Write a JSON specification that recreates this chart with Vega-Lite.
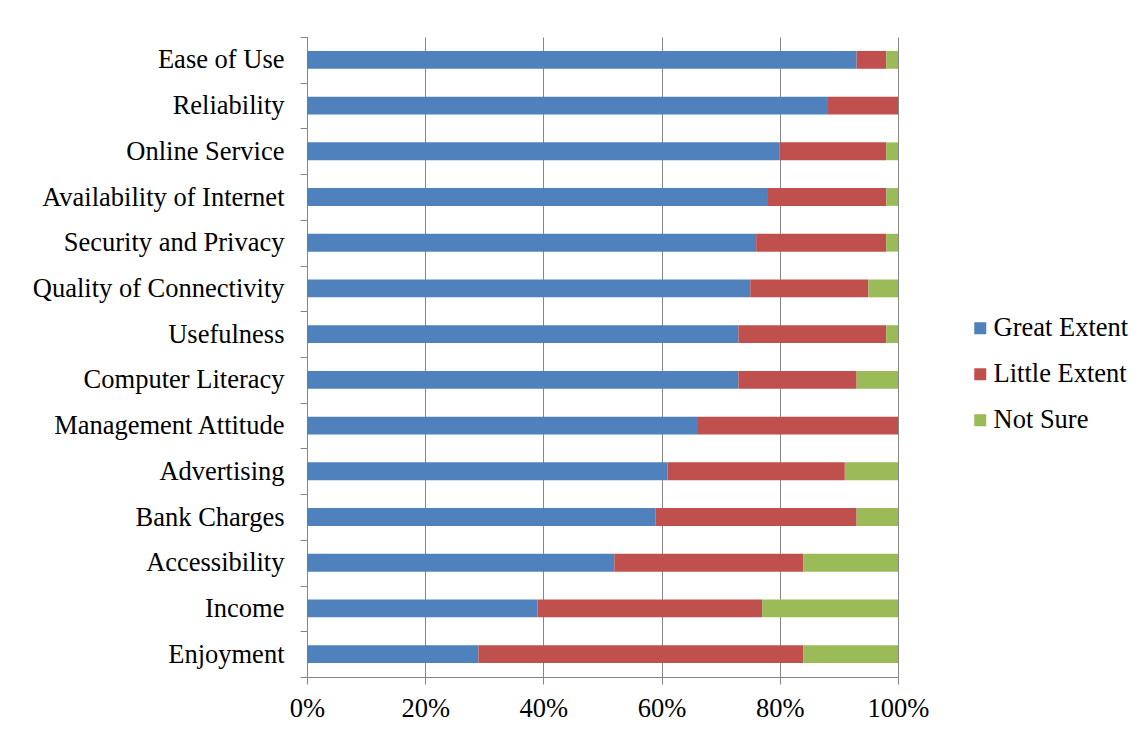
{
  "$schema": "https://vega.github.io/schema/vega-lite/v6.json",
  "autosize": {"type": "none"},
  "padding": {"left": 307, "top": 37, "right": 244, "bottom": 57},
  "width": 591,
  "height": 640,
  "background": "white",
  "config": {
    "view": {"stroke": null},
    "font": "Liberation Serif"
  },
  "data": {
    "values": [
      {"factor": "Ease of Use", "response": "Great Extent", "pct": 93},
      {"factor": "Ease of Use", "response": "Little Extent", "pct": 5},
      {"factor": "Ease of Use", "response": "Not Sure", "pct": 2},
      {"factor": "Reliability", "response": "Great Extent", "pct": 88},
      {"factor": "Reliability", "response": "Little Extent", "pct": 12},
      {"factor": "Reliability", "response": "Not Sure", "pct": 0},
      {"factor": "Online Service", "response": "Great Extent", "pct": 80},
      {"factor": "Online Service", "response": "Little Extent", "pct": 18},
      {"factor": "Online Service", "response": "Not Sure", "pct": 2},
      {"factor": "Availability of Internet", "response": "Great Extent", "pct": 78},
      {"factor": "Availability of Internet", "response": "Little Extent", "pct": 20},
      {"factor": "Availability of Internet", "response": "Not Sure", "pct": 2},
      {"factor": "Security and Privacy", "response": "Great Extent", "pct": 76},
      {"factor": "Security and Privacy", "response": "Little Extent", "pct": 22},
      {"factor": "Security and Privacy", "response": "Not Sure", "pct": 2},
      {"factor": "Quality of Connectivity", "response": "Great Extent", "pct": 75},
      {"factor": "Quality of Connectivity", "response": "Little Extent", "pct": 20},
      {"factor": "Quality of Connectivity", "response": "Not Sure", "pct": 5},
      {"factor": "Usefulness", "response": "Great Extent", "pct": 73},
      {"factor": "Usefulness", "response": "Little Extent", "pct": 25},
      {"factor": "Usefulness", "response": "Not Sure", "pct": 2},
      {"factor": "Computer Literacy", "response": "Great Extent", "pct": 73},
      {"factor": "Computer Literacy", "response": "Little Extent", "pct": 20},
      {"factor": "Computer Literacy", "response": "Not Sure", "pct": 7},
      {"factor": "Management Attitude", "response": "Great Extent", "pct": 66},
      {"factor": "Management Attitude", "response": "Little Extent", "pct": 34},
      {"factor": "Management Attitude", "response": "Not Sure", "pct": 0},
      {"factor": "Advertising", "response": "Great Extent", "pct": 61},
      {"factor": "Advertising", "response": "Little Extent", "pct": 30},
      {"factor": "Advertising", "response": "Not Sure", "pct": 9},
      {"factor": "Bank Charges", "response": "Great Extent", "pct": 59},
      {"factor": "Bank Charges", "response": "Little Extent", "pct": 34},
      {"factor": "Bank Charges", "response": "Not Sure", "pct": 7},
      {"factor": "Accessibility", "response": "Great Extent", "pct": 52},
      {"factor": "Accessibility", "response": "Little Extent", "pct": 32},
      {"factor": "Accessibility", "response": "Not Sure", "pct": 16},
      {"factor": "Income", "response": "Great Extent", "pct": 39},
      {"factor": "Income", "response": "Little Extent", "pct": 38},
      {"factor": "Income", "response": "Not Sure", "pct": 23},
      {"factor": "Enjoyment", "response": "Great Extent", "pct": 29},
      {"factor": "Enjoyment", "response": "Little Extent", "pct": 55},
      {"factor": "Enjoyment", "response": "Not Sure", "pct": 16}
    ]
  },
  "mark": {"type": "bar", "height": {"band": 0.39}},
  "encoding": {
    "y": {
      "field": "factor",
      "type": "nominal",
      "sort": null,
      "scale": {"paddingInner": 0, "paddingOuter": 0},
      "axis": {
        "title": null,
        "tickBand": "extent",
        "tickSize": 7,
        "tickColor": "#868686",
        "domainColor": "#868686",
        "labelFont": "Liberation Serif",
        "labelFontSize": 26.5,
        "labelColor": "black",
        "labelPadding": 16,
        "labelLimit": 400,
        "grid": false
      }
    },
    "x": {
      "field": "pct",
      "type": "quantitative",
      "stack": "normalize",
      "scale": {"domain": [0, 1], "nice": false},
      "axis": {
        "title": null,
        "format": ".0%",
        "values": [0, 0.2, 0.4, 0.6, 0.8, 1],
        "grid": true,
        "gridColor": "#868686",
        "gridWidth": 1,
        "tickSize": 7,
        "tickColor": "#868686",
        "domainColor": "#868686",
        "labelFont": "Liberation Serif",
        "labelFontSize": 26.5,
        "labelColor": "black",
        "labelPadding": 11,
        "labelFlush": false
      }
    },
    "color": {
      "field": "response",
      "type": "nominal",
      "scale": {
        "domain": ["Great Extent", "Little Extent", "Not Sure"],
        "range": ["#4F81BD", "#C0504D", "#9BBB59"]
      },
      "legend": {
        "title": null,
        "orient": "none",
        "legendX": 660,
        "legendY": 278,
        "symbolType": "square",
        "symbolSize": 144,
        "symbolStrokeWidth": 0,
        "labelFont": "Liberation Serif",
        "labelFontSize": 26.5,
        "labelColor": "black",
        "labelOffset": 0,
        "labelLimit": 300,
        "rowPadding": 19
      }
    }
  }
}
